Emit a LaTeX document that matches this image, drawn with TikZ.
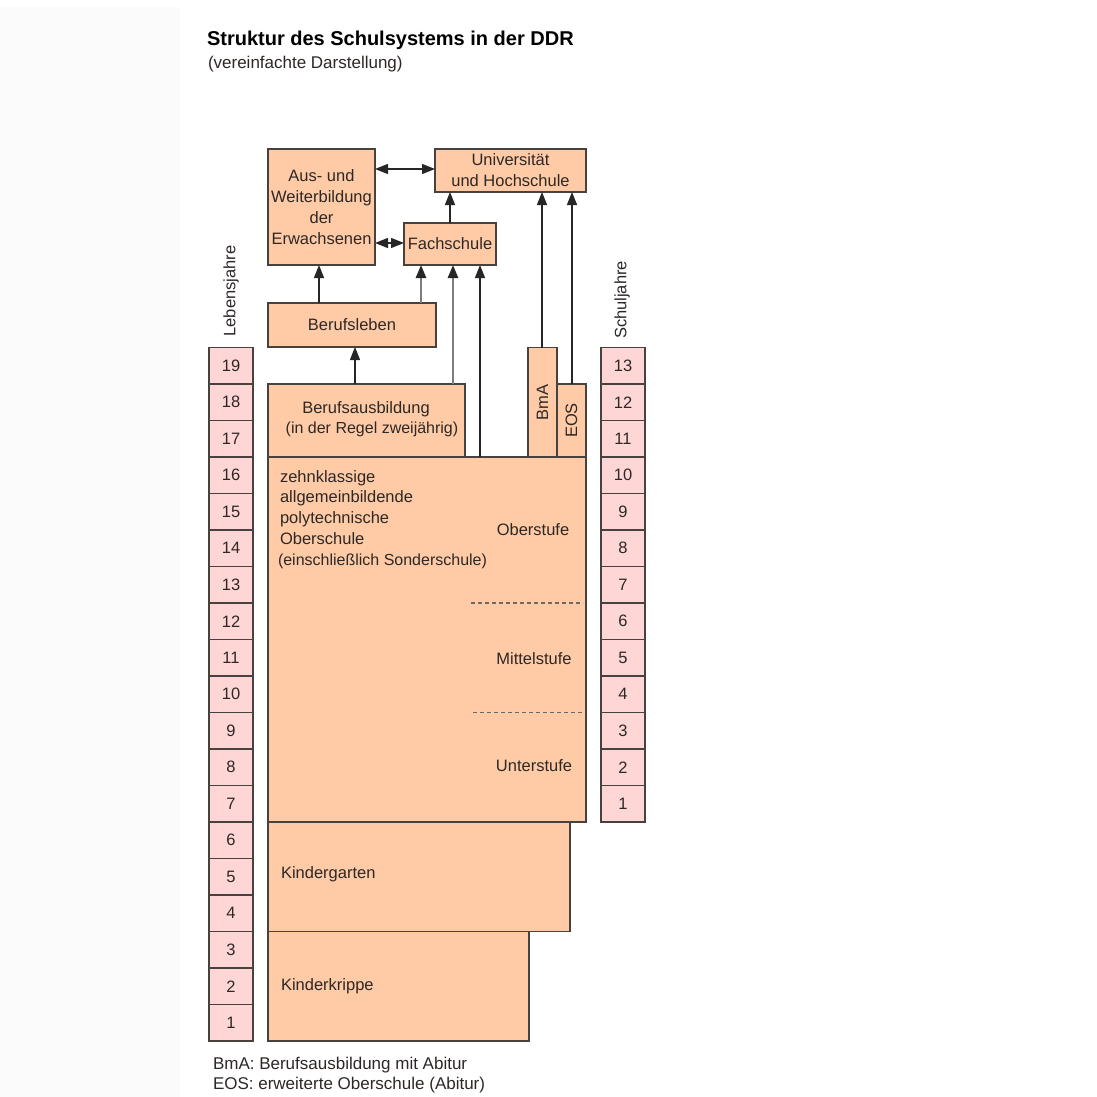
\documentclass[tikz,border=0pt]{standalone}
\usepackage{fontspec}
\setmainfont{Liberation Sans}
\usetikzlibrary{arrows.meta}
\definecolor{peach}{RGB}{255,203,166}
\definecolor{pinkbox}{RGB}{255,214,214}
\definecolor{edge}{RGB}{72,66,62}
\definecolor{txt}{RGB}{45,40,38}
\definecolor{greyline}{RGB}{125,125,125}
\definecolor{faint}{RGB}{251,251,251}
\tikzset{
  x=1pt, y=-1pt,
  every node/.style={text=txt, inner sep=0pt, outer sep=0pt},
  main/.style={font=\fontsize{16.5}{21}\selectfont},
  small/.style={font=\fontsize{16}{19}\selectfont},
  box/.style={draw=edge, fill=peach, line width=1.2pt, anchor=north west},
  agebox/.style={draw=edge, fill=pinkbox, line width=1.2pt, minimum width=44pt, minimum height=36.5pt, font=\fontsize{16.5}{20}\selectfont},
  arr/.style={draw=black!85, line width=1.4pt, -{Triangle[length=13pt,width=10pt,color=black!85]}},
  garr/.style={draw=greyline, line width=2.6pt, -{Triangle[length=13pt,width=10pt,color=black!85]}},
  darr/.style={draw=black!85, line width=1.4pt, {Triangle[length=13pt,width=10pt,color=black!85]}-{Triangle[length=13pt,width=10pt,color=black!85]}},
  stufe/.style={draw=edge!80, line width=1.2pt, dash pattern=on 4pt off 3pt}
}
\begin{document}
\begin{tikzpicture}
\useasboundingbox (0,0) rectangle (1097,1097);
\fill[white] (0,0) rectangle (1097,1097);
\fill[faint] (0,7) rectangle (180,1097);

% title
\node[anchor=base west, font=\fontsize{20}{24}\selectfont\bfseries, text=black] (title) at (207,46) {Struktur des Schulsystems in der DDR};
\node[anchor=base west, font=\fontsize{17}{20}\selectfont] (subtitle) at (208,69) {(vereinfachte Darstellung)};

% main boxes
\node[box, minimum width=261pt, minimum height=109.5pt] (krippe) at (268,931.5) {};
\node[box, minimum width=302pt, minimum height=109.5pt] (garten) at (268,822) {};
\node[box, minimum width=318pt, minimum height=365pt] (pos) at (268,457) {};
\node[box, minimum width=197pt, minimum height=73pt] (ausb) at (268,384) {};
\node[box, minimum width=29pt, minimum height=109.5pt] (bma) at (528,347.5) {};
\node[box, minimum width=29pt, minimum height=73pt] (eos) at (557,384) {};
\node[box, minimum width=168pt, minimum height=44pt] (leben) at (268,303) {};
\node[box, minimum width=107pt, minimum height=116pt] (weiter) at (268,149) {};
\node[box, minimum width=92pt, minimum height=42pt] (fach) at (404,223) {};
\node[box, minimum width=151pt, minimum height=43pt] (uni) at (435,149) {};

% texts in boxes
\node[main, align=center] (unitext) at (uni.center) {Universität\\und Hochschule};
\node[main, align=center] (weitertext) at (weiter.center) {Aus- und\\Weiterbildung\\der\\Erwachsenen};
\node[main] (fachtext) at (fach.center) {Fachschule};
\node[main] (lebentext) at (leben.center) {Berufsleben};
\node[main] (ausbtext) at (366,409) {Berufsausbildung};
\node[small] (ausbtext2) at (372,429) {(in der Regel zweijährig)};
\node[main, rotate=90] (bmatext) at (bma.center) {BmA};
\node[main, rotate=90] (eostext) at (eos.center) {EOS};

\node[main, anchor=base west] (pos1) at (280,482) {zehnklassige};
\node[main, anchor=base west] (pos2) at (280,502.5) {allgemeinbildende};
\node[main, anchor=base west] (pos3) at (280,523.5) {polytechnische};
\node[main, anchor=base west] (pos4) at (280,544.5) {Oberschule};
\node[small, anchor=base west] (pos5) at (278,565) {(einschließlich Sonderschule)};

\node[main] (ober) at (533,530) {Oberstufe};
\node[main] (mittel) at (534,659) {Mittelstufe};
\node[main] (unter) at (534,766) {Unterstufe};
\coordinate (d1a) at (471,603);
\coordinate (d1b) at (583,603);
\coordinate (d2a) at (473,712.5);
\coordinate (d2b) at (584,712.5);
\draw[stufe] (d1a) -- (d1b);
\draw[stufe] (d2a) -- (d2b);

\node[main, anchor=west] (gartentext) at (281,874) {Kindergarten};
\node[main, anchor=west] (krippetext) at (281,986) {Kinderkrippe};

% age columns
\foreach \i in {1,...,19} {
  \node[agebox] (age\i) at (231,{1041-(\i-0.5)*36.5}) {\i};
}
\foreach \i in {1,...,13} {
  \node[agebox] (sj\i) at (623,{822-(\i-0.5)*36.5}) {\i};
}
\node[main, rotate=90] (lebensj) at (231,291) {Lebensjahre};
\node[main, rotate=90] (schulj) at (622,300) {Schuljahre};

% connectors
\coordinate (x319) at (319,0);
\coordinate (x355) at (355,0);
\coordinate (x421) at (421,0);
\coordinate (x450) at (450,0);
\coordinate (x453) at (453,0);
\coordinate (x480) at (480,0);
\coordinate (x542) at (542,0);
\coordinate (x572) at (572,0);
\coordinate (y169) at (0,169);
\coordinate (y243) at (0,243);

\draw[arr] (ausb.north -| x355) -- (leben.south -| x355);
\draw[arr] (leben.north -| x319) -- (weiter.south -| x319);
\draw[garr] (leben.north -| x421) -- (fach.south -| x421);
\draw[garr] (ausb.north -| x453) -- (fach.south -| x453);
\draw[arr] (pos.north -| x480) -- (fach.south -| x480);
\draw[arr] (fach.north -| x450) -- (uni.south -| x450);
\draw[arr] (bma.north -| x542) -- (uni.south -| x542);
\draw[arr] (eos.north -| x572) -- (uni.south -| x572);
\draw[darr] (weiter.east |- y169) -- (uni.west |- y169);
\draw[darr] (weiter.east |- y243) -- (fach.west |- y243);

% footnotes
\node[font=\fontsize{17}{20}\selectfont, anchor=west] (fn1) at (213,1065) {BmA: Berufsausbildung mit Abitur};
\node[font=\fontsize{17}{20}\selectfont, anchor=west] (fn2) at (213,1085) {EOS: erweiterte Oberschule (Abitur)};
\end{tikzpicture}
\end{document}
